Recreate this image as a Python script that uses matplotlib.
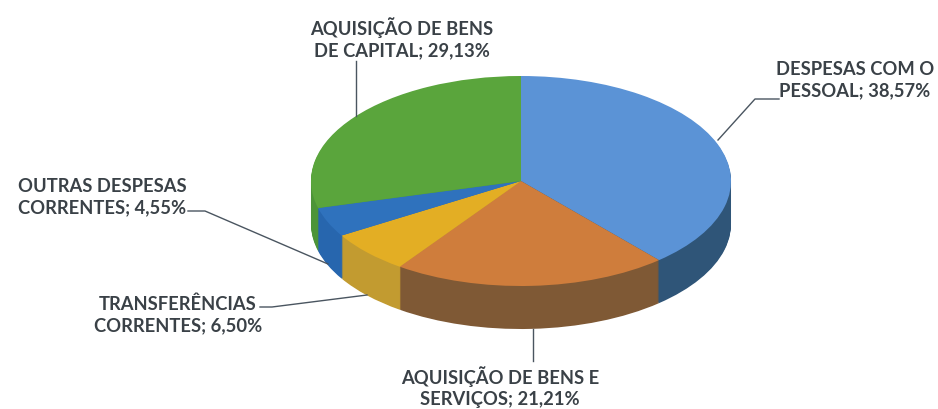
import numpy as np
import matplotlib
matplotlib.use("Agg")
import matplotlib.pyplot as plt

labels = ["DESPESAS COM O\nPESSOAL; 38,57%",
          "AQUISIÇÃO DE BENS E\nSERVIÇOS; 21,21%",
          "TRANSFERÊNCIAS\nCORRENTES; 6,50%",
          "OUTRAS DESPESAS\nCORRENTES; 4,55%",
          "AQUISIÇÃO DE BENS\nDE CAPITAL; 29,13%"]
values = [38.57, 21.21, 6.50, 4.55, 29.13]
top_colors = ["#5b93d6", "#cf7d3c", "#e3ae24", "#2f72bd", "#5aa53c"]
side_colors = ["#2f5578", "#7f5935", "#c29b30", "#2766ae", "#4c9438"]

W, H = 938, 410
CX, CY = 521, 182
RX, RY = 210, 105
DEPTH = 43

fig = plt.figure(figsize=(W / 100, H / 100), dpi=100)
ax = fig.add_axes([0, 0, 1, 1])

# extrusion: stacked pies, lowest first, top face last
for off in range(DEPTH, 0, -1):
    ax.pie(values, colors=side_colors, startangle=270, counterclock=True,
           radius=1, center=(0, off / RY), frame=True)
wedges, _ = ax.pie(values, colors=top_colors, startangle=270, counterclock=True,
                   radius=1, center=(0, 0), frame=True)

# pie is unit circle, stretch it to the ellipse in pixels
ax.set_aspect("auto")
ax.set_xlim(-CX / RX, (W - CX) / RX)
ax.set_ylim((H - CY) / RY, -CY / RY)
ax.axis("off")


def pt(x, y):
    return ((x - CX) / RX, (y - CY) / RY)


label_pos = [(855, 80), (500, 387), (178, 315), (102, 197), (402, 38)]
leaders = [[(779, 100), (755, 100), (718, 141)],
           [(533, 330), (533, 362)],
           [(367, 296), (272, 308), (260, 308)],
           [(328, 265), (205, 212), (188, 212)],
           [(356, 117), (356, 62)]]

for lab, p in zip(labels, label_pos):
    x, y = pt(*p)
    ax.text(x, y, lab, ha="center", va="center", fontsize=13.2, color="#3a4147",
            family="Lato", fontweight="bold", linespacing=1.3)
for line in leaders:
    xy = np.array([pt(*q) for q in line])
    ax.plot(xy[:, 0], xy[:, 1], color="#4a5560", lw=1)

fig.savefig("out.png", dpi=100)
